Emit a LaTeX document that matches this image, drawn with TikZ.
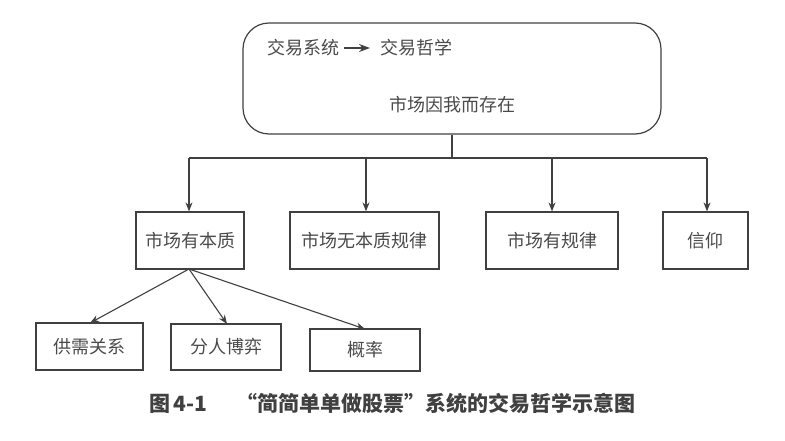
\documentclass[tikz,border=0pt]{standalone}
\usepackage{fontspec}
\newfontfamily\cjk{Noto Sans CJK SC}
\usetikzlibrary{arrows.meta}
\definecolor{ln}{HTML}{404040}
\definecolor{tx}{HTML}{4A4A4A}
\tikzset{
  box/.style={draw=ln, line width=1.2pt, inner sep=0pt, text=tx, font=\cjk\fontsize{18}{20}\selectfont},
  lbl/.style={inner sep=0pt, text=tx, font=\cjk\fontsize{18}{20}\selectfont},
  conn/.style={draw=ln, line width=1.1pt},
  arr/.style={conn, -{Stealth[length=9pt,width=7pt]}},
}
\begin{document}
\begin{tikzpicture}[x=1pt,y=-1pt]
\useasboundingbox (0,0) rectangle (785,441);
% top box
\node[box, rounded corners=26pt, minimum width=418pt, minimum height=111pt] (top) at (452,78.5) {};
\node[lbl, anchor=west] (t1) at (267,48) {交易系统};
\node[lbl, anchor=west] (t2) at (380,48) {交易哲学};
\draw[conn, line width=1.6pt, -{Stealth[length=11pt,width=8pt]}] ([xshift=5pt]t1.east) -- ([xshift=-10pt]t2.west);
\node[lbl] (t3) at (452,105) {市场因我而存在};
% second row
\node[box, minimum width=108pt, minimum height=57pt] (b1) at (190,240.5) {市场有本质};
\node[box, minimum width=149pt, minimum height=57pt] (b2) at (364.5,240.5) {市场无本质规律};
\node[box, minimum width=132pt, minimum height=57pt] (b3) at (552,240.5) {市场有规律};
\node[box, minimum width=85pt, minimum height=57pt] (b4) at (705.5,240.5) {信仰};
% third row
\node[box, minimum width=107pt, minimum height=47pt] (c1) at (89.5,346.5) {供需关系};
\node[box, minimum width=110pt, minimum height=46pt] (c2) at (226,347) {分人博弈};
\node[box, minimum width=110pt, minimum height=42pt] (c3) at (365,350) {概率};
% connectors
\coordinate (j) at (452,158);
\draw[conn] (top.south) -- (j);
\draw[conn] (189,158) -- (707,158);
\draw[arr] (189,158) -- (b1.north -| 189,0);
\draw[arr] (366,158) -- (b2.north -| 366,0);
\draw[arr] (552,158) -- (b3.north -| 552,0);
\draw[arr] (707,158) -- (b4.north -| 707,0);
\coordinate (s) at (189,269);
\draw[arr] (s) -- (90,323);
\draw[arr] (s) -- (227,324);
\draw[arr] (s) -- (365,329);
% caption
\node[inner sep=0pt, text=ln, font=\cjk\bfseries\fontsize{21}{23}\selectfont, anchor=west] (cap) at (149,403) {图\,4-1\hspace{1.4em}“简简单单做股票”系统的交易哲学示意图};
\end{tikzpicture}
\end{document}
